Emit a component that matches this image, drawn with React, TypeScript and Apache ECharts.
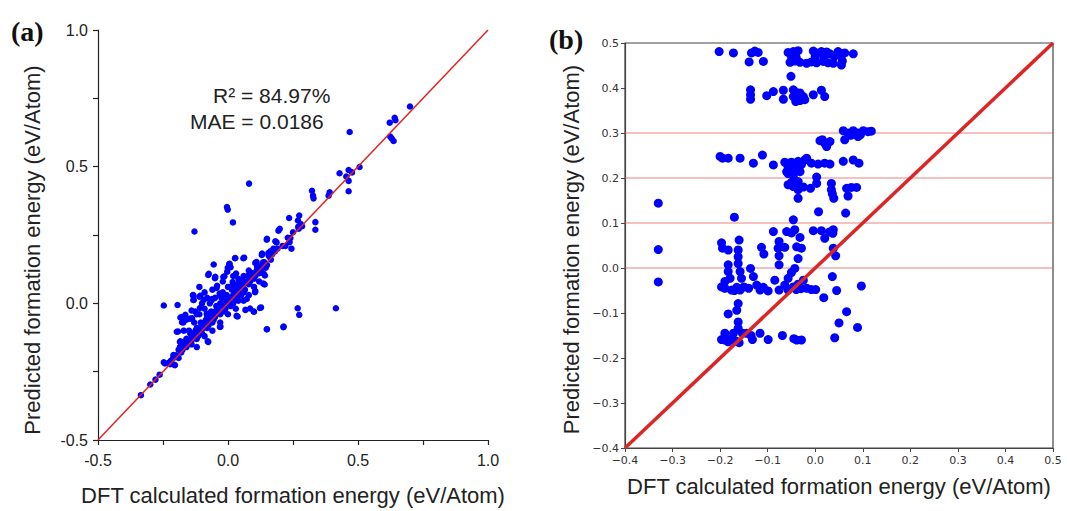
import React, { useEffect, useRef } from "react";
import * as echarts from "echarts";

// ---------- Panel (a) data: [DFT, predicted] ----------
const pointsA_spread: number[][] = [
  [0.70, 0.72], [0.641, 0.679], [0.644, 0.670], [0.622, 0.661], [0.468, 0.627], [0.624, 0.610], [0.637, 0.594], [0.630, 0.603],
  [0.506, 0.499], [0.464, 0.488], [0.477, 0.479], [0.429, 0.476], [0.455, 0.464], [0.464, 0.448], [0.464, 0.410], [0.391, 0.406],
  [0.387, 0.394], [0.323, 0.412], [0.327, 0.394], [0.329, 0.384], [0.081, 0.438], [-0.004, 0.352], [-0.001, 0.343], [0.019, 0.296],
  [-0.129, 0.263], [0.235, 0.312], [0.274, 0.321], [0.269, 0.303], [0.199, 0.273], [0.285, 0.282], [0.272, 0.273], [0.336, 0.297],
  [0.336, 0.269], [0.150, 0.236], [0.182, 0.227], [0.240, 0.239], [0.237, 0.224], [0.221, 0.210], [0.244, 0.200], [0.131, 0.182],
  [0.163, 0.190], [0.156, 0.176], [0.062, 0.167], [0.028, 0.166], [-0.055, 0.142], [0.006, 0.145], [-0.001, 0.130], [0.105, 0.148],
  [0.112, 0.133], [0.144, 0.133], [0.137, 0.109], [-0.074, 0.108], [0.031, 0.109], [-0.049, 0.097], [0.092, 0.091], [0.141, 0.069],
  [-0.014, 0.099], [-0.042, 0.064], [0.041, 0.073], [0.105, 0.045], [-0.135, 0.030], [-0.106, 0.028], [-0.132, 0.012], [-0.247, -0.008],
  [-0.194, -0.006], [-0.094, 0.012], [-0.062, 0.016], [-0.032, 0.036], [0.268, -0.018], [0.274, -0.042], [0.415, -0.018], [0.214, -0.085],
  [0.150, -0.095], [0.127, -0.015], [0.099, -0.030], [0.067, -0.024], [0.037, -0.048], [-0.029, -0.085], [-0.078, -0.139], [-0.183, -0.052],
  [-0.177, -0.069], [-0.164, -0.042], [-0.192, -0.103], [-0.126, -0.030], [-0.138, -0.055], [-0.183, -0.139], [-0.177, -0.158], [-0.209, -0.194],
  [-0.247, -0.216], [-0.228, -0.218], [-0.209, -0.224], [-0.263, -0.261], [-0.279, -0.279], [-0.299, -0.297], [-0.335, -0.336],
];

const pointsA_cluster: number[][] = [
  [0.005, 0.144], [0.010, 0.132], [0.059, 0.165], [0.027, 0.165], [-0.076, 0.104], [-0.050, 0.092], [-0.018, 0.096], [-0.003, 0.116],
  [0.018, 0.078], [0.053, 0.084], [-0.044, 0.056], [-0.031, 0.029], [-0.133, 0.029], [-0.110, 0.024], [-0.133, 0.012], [-0.063, 0.011],
  [-0.108, -0.017], [-0.140, -0.026], [-0.178, -0.050], [-0.172, -0.070], [-0.146, -0.056], [-0.082, -0.038], [-0.031, -0.086], [-0.197, -0.104],
  [-0.185, -0.141], [-0.172, -0.159], [-0.076, -0.141], [-0.242, -0.220], [-0.223, -0.223], [-0.204, -0.226], [-0.210, -0.189], [0.072, 0.016],
  [0.085, -0.019], [0.123, -0.017], [0.100, -0.031], [0.033, -0.046], [0.149, -0.095], [0.213, -0.087], [0.142, 0.102], [0.136, 0.072],
  [0.104, 0.041], [0.110, 0.151], [0.130, 0.177], [0.155, 0.184], [0.149, 0.233], [0.187, 0.223], [0.194, 0.266],
  [-0.16, -0.06], [-0.12, -0.04], [-0.10, 0.00], [-0.08, 0.02], [-0.06, 0.05], [-0.02, 0.08], [0.02, 0.10], [-0.11, 0.06],
  [-0.09, 0.04], [-0.17, -0.10],
];

const pointsA_diagonal: number[][] = [
  [-0.22, -0.21], [-0.20, -0.19], [-0.19, -0.17], [-0.18, -0.18], [-0.17, -0.15], [-0.16, -0.16], [-0.16, -0.13], [-0.15, -0.14],
  [-0.14, -0.12], [-0.14, -0.15], [-0.13, -0.11], [-0.12, -0.13], [-0.12, -0.09], [-0.11, -0.10], [-0.10, -0.08], [-0.10, -0.11],
  [-0.09, -0.07], [-0.08, -0.09], [-0.08, -0.05], [-0.07, -0.06], [-0.06, -0.04], [-0.06, -0.07], [-0.05, -0.03], [-0.05, -0.05],
  [-0.04, -0.02], [-0.03, -0.04], [-0.03, 0.00], [-0.02, -0.01], [-0.01, 0.01], [-0.01, -0.02], [0.00, 0.00], [0.01, 0.02],
  [0.01, -0.01], [0.02, 0.03], [0.02, 0.00], [0.03, 0.04], [0.03, 0.02], [0.04, 0.05], [0.04, 0.01], [0.05, 0.06],
  [0.05, 0.03], [0.06, 0.07], [0.06, 0.04], [0.07, 0.08], [0.08, 0.07], [0.09, 0.10], [0.10, 0.09], [0.11, 0.12],
  [0.12, 0.11], [0.13, 0.14], [0.14, 0.15], [0.15, 0.14], [0.16, 0.17], [0.17, 0.18], [0.18, 0.19], [0.19, 0.20],
  [0.21, 0.21], [0.23, 0.24], [0.25, 0.26], [0.27, 0.28], [0.28, 0.29],
  [-0.15, -0.10], [-0.13, -0.07], [-0.11, -0.04], [-0.09, -0.02], [-0.07, 0.00], [-0.05, 0.02], [-0.02, 0.04], [0.00, 0.06],
  [0.02, 0.07], [0.04, 0.09], [0.06, 0.10], [0.08, 0.12],
  [-0.12, -0.16], [-0.09, -0.12], [-0.06, -0.10], [-0.03, -0.07], [0.00, -0.04], [0.03, -0.02], [0.06, 0.01], [0.08, 0.03],
  [0.10, 0.06], [0.12, 0.08],
  [-0.21, -0.20], [-0.19, -0.20], [-0.185, -0.16], [-0.175, -0.17], [-0.165, -0.14], [-0.155, -0.15], [-0.145, -0.11], [-0.135, -0.13],
  [-0.125, -0.10], [-0.115, -0.12], [-0.105, -0.07], [-0.095, -0.09], [-0.085, -0.06], [-0.075, -0.08], [-0.065, -0.03], [-0.055, -0.06],
  [-0.045, -0.01], [-0.035, -0.03], [-0.025, 0.02], [-0.015, -0.03], [-0.005, 0.03], [0.005, 0.01], [0.015, 0.05], [0.025, 0.01],
  [0.035, 0.06], [0.045, 0.03], [0.055, 0.08], [0.065, 0.05], [0.075, 0.10], [0.085, 0.08], [0.095, 0.11], [0.105, 0.10],
  [0.115, 0.13], [0.125, 0.12], [0.135, 0.15], [0.145, 0.13], [0.165, 0.16], [0.175, 0.20],
];

const diagA: number[][] = [[-0.5, -0.5], [1.0, 1.0]];

// ---------- Panel (b) data: [DFT, predicted] ----------
const pointsB_high: number[][] = [
  [-0.202, 0.481], [-0.172, 0.478], [-0.134, 0.478], [-0.127, 0.482], [-0.120, 0.479], [-0.057, 0.479], [-0.046, 0.481], [-0.036, 0.483],
  [-0.004, 0.482], [0.003, 0.478], [0.013, 0.481], [0.024, 0.480], [0.031, 0.476], [0.048, 0.481], [0.062, 0.478], [0.080, 0.476],
  [-0.050, 0.470], [-0.040, 0.468], [0.000, 0.470], [0.018, 0.468], [0.040, 0.470], [0.055, 0.472],
  [-0.139, 0.458], [-0.109, 0.459], [-0.053, 0.457], [-0.043, 0.460], [-0.032, 0.457], [-0.018, 0.455], [-0.008, 0.458], [0.003, 0.456],
  [0.017, 0.459], [0.027, 0.456], [0.038, 0.455], [0.055, 0.451], [0.057, 0.460], [-0.051, 0.426],
  [-0.136, 0.396], [-0.136, 0.385], [-0.136, 0.375], [-0.102, 0.383], [-0.088, 0.392], [-0.067, 0.395], [-0.067, 0.375], [-0.046, 0.396],
  [-0.046, 0.381], [-0.041, 0.370], [-0.032, 0.389], [-0.025, 0.381], [-0.022, 0.374], [-0.032, 0.372], [-0.004, 0.385], [0.013, 0.395],
  [0.020, 0.381], [-0.040, 0.390],
  [0.059, 0.305], [0.069, 0.300], [0.080, 0.305], [0.090, 0.300], [0.101, 0.305], [0.111, 0.303], [0.118, 0.304], [0.075, 0.295],
  [0.090, 0.292], [0.062, 0.285], [0.095, 0.296], [0.010, 0.283], [0.020, 0.277], [0.031, 0.281], [0.024, 0.270], [0.015, 0.285],
];

const pointsB_mid: number[][] = [
  [-0.200, 0.248], [-0.195, 0.244], [-0.183, 0.244], [-0.158, 0.244], [-0.130, 0.233], [-0.111, 0.251], [-0.088, 0.229], [-0.064, 0.235],
  [-0.057, 0.225], [-0.050, 0.235], [-0.043, 0.222], [-0.036, 0.237], [-0.029, 0.230], [-0.018, 0.244], [-0.060, 0.214], [-0.046, 0.205],
  [-0.032, 0.214], [-0.022, 0.240], [-0.008, 0.233], [0.006, 0.231], [0.020, 0.233], [0.031, 0.231], [0.059, 0.237], [0.080, 0.240],
  [0.092, 0.233], [-0.050, 0.222], [-0.057, 0.210],
  [-0.057, 0.185], [-0.046, 0.181], [-0.036, 0.192], [-0.036, 0.174], [-0.050, 0.190], [-0.036, 0.155], [-0.010, 0.177], [0.003, 0.202],
  [0.003, 0.188], [0.034, 0.188], [0.034, 0.174], [0.039, 0.155], [0.066, 0.177], [0.069, 0.160], [0.076, 0.179], [0.087, 0.179],
  [-0.025, 0.180], [0.036, 0.165], [0.007, 0.125], [0.064, 0.122],
  [-0.330, 0.144], [-0.330, 0.041], [-0.330, -0.031], [-0.170, 0.113],
  [-0.046, 0.107], [-0.088, 0.081], [-0.060, 0.081], [-0.043, 0.085], [-0.032, 0.068], [-0.004, 0.083], [-0.050, 0.078], [0.013, 0.083],
  [0.020, 0.066], [0.038, 0.085], [0.037, 0.077], [0.030, 0.080],
  [-0.197, 0.056], [-0.195, 0.044], [-0.183, 0.040], [-0.160, 0.062], [-0.162, 0.040], [-0.162, 0.025], [-0.162, 0.010], [-0.113, 0.046],
  [-0.108, 0.031], [-0.076, 0.059], [-0.078, 0.044], [-0.064, 0.046], [-0.076, 0.027], [-0.076, 0.007], [-0.039, 0.047], [-0.029, 0.044],
  [-0.036, 0.021], [0.038, 0.044], [0.043, 0.027],
];

const pointsB_low: number[][] = [
  [-0.183, 0.007], [-0.183, -0.008], [-0.179, -0.023], [-0.197, -0.042], [-0.190, -0.045], [-0.176, -0.049], [-0.165, -0.043], [-0.158, -0.049],
  [-0.150, -0.042], [-0.158, -0.008], [-0.155, -0.023], [-0.136, -0.001], [-0.130, -0.019], [-0.123, -0.038], [-0.116, -0.049], [-0.109, -0.043],
  [-0.099, -0.051], [-0.085, -0.027], [-0.076, -0.049], [-0.057, -0.023], [-0.050, -0.010], [-0.043, -0.001], [-0.046, -0.042], [-0.036, -0.036],
  [-0.025, -0.027], [-0.018, -0.045], [-0.008, -0.048], [0.001, -0.048], [-0.057, -0.049], [-0.064, -0.038], [0.036, -0.019], [0.045, -0.050],
  [0.018, -0.066], [0.097, -0.040], [-0.140, -0.045], [-0.190, -0.030], [-0.170, -0.050], [-0.040, -0.048], [-0.030, -0.046],
  [-0.162, -0.079], [-0.165, -0.094], [-0.183, -0.102], [-0.162, -0.120], [-0.162, -0.134], [0.066, -0.097], [0.050, -0.122], [0.089, -0.132],
  [-0.197, -0.159], [-0.190, -0.160], [-0.183, -0.164], [-0.176, -0.157], [-0.167, -0.162], [-0.160, -0.166], [-0.153, -0.145], [-0.144, -0.145],
  [-0.132, -0.159], [-0.116, -0.145], [-0.099, -0.159], [-0.069, -0.150], [-0.045, -0.157], [-0.039, -0.160], [-0.029, -0.160], [-0.190, -0.145],
  [-0.172, -0.145], [0.041, -0.155], [-0.135, -0.150],
];

const diagB: number[][] = [[-0.4, -0.4], [0.5, 0.5]];
const hLinesB: number[] = [0.0, 0.1, 0.2, 0.3];
const rangeB: number[] = [-0.4, 0.5];

const annotationLines: string[] = ["R\u00B2 = 84.97%", "MAE = 0.0186"];
const axisTitleX = "DFT calculated formation energy (eV/Atom)";
const axisTitleY = "Predicted formation energy (eV/Atom)";

const fmtA = (v: number) => {
  const h = v * 2;
  if (Math.abs(h - Math.round(h)) > 1e-6) return "";
  if (Math.abs(v) < 1e-9) return "0.0";
  return v.toFixed(1);
};
const fmtB = (v: number) => {
  if (Math.abs(v) < 1e-9) return "0.0";
  return v.toFixed(1).replace("-", "\u2212");
};

const SANS = "Liberation Sans, Arial, sans-serif";
const DEJAVU = "DejaVu Sans, sans-serif";

export default function App() {
  const ref = useRef<HTMLDivElement>(null);
  useEffect(() => {
    if (!ref.current) return;
    const chart = echarts.init(ref.current, null, { renderer: "svg" });

    const axisA = (isX: boolean) => ({
      type: "value",
      gridIndex: 0,
      min: -0.5,
      max: 1.0,
      interval: 0.25,
      axisLine: { show: true, onZero: false, lineStyle: { color: "#222", width: 1.2 } },
      axisTick: { show: true, inside: false, length: 5, lineStyle: { color: "#222", width: 1.2 } },
      axisLabel: {
        formatter: fmtA,
        color: "#222",
        fontSize: 16,
        fontFamily: SANS,
        margin: isX ? 12 : 10,
        showMinLabel: true,
        showMaxLabel: true,
      },
      splitLine: { show: false },
      name: isX ? axisTitleX : axisTitleY,
      nameLocation: "middle",
      nameGap: isX ? 44 : 55,
      nameTextStyle: isX
        ? { fontSize: 22, fontFamily: SANS, color: "#222" }
        : { fontSize: 22, fontFamily: SANS, color: "#222", padding: [0, 30, 0, 0] },
    });

    const axisB = (isX: boolean) => ({
      type: "value",
      gridIndex: 1,
      min: rangeB[0],
      max: rangeB[1],
      interval: 0.1,
      axisLine: { show: true, onZero: false, lineStyle: { color: "#444", width: 1.2 } },
      axisTick: { show: true, inside: false, length: 4, lineStyle: { color: "#444", width: 1 } },
      axisLabel: {
        formatter: fmtB,
        color: "#333",
        fontSize: 11,
        fontFamily: DEJAVU,
        margin: isX ? 7 : 6,
        showMinLabel: true,
        showMaxLabel: true,
      },
      splitLine: { show: false },
      name: isX ? axisTitleX : axisTitleY,
      nameLocation: "middle",
      nameGap: isX ? 27 : 43,
      nameTextStyle: isX
        ? { fontSize: 22, fontFamily: SANS, color: "#222" }
        : { fontSize: 22, fontFamily: SANS, color: "#222", padding: [0, 8, 0, 0] },
    });

    const dot = "#0000ff";
    const option: any = {
      animation: false,
      backgroundColor: "#ffffff",
      grid: [
        { left: 98, top: 30, width: 390, height: 412 },
        { left: 625, top: 43, width: 428, height: 405, show: true, borderColor: "#444", borderWidth: 1.2 },
      ],
      xAxis: [axisA(true), axisB(true)],
      yAxis: [axisA(false), axisB(false)],
      series: [
        {
          type: "scatter", xAxisIndex: 0, yAxisIndex: 0, z: 2,
          data: [...pointsA_spread, ...pointsA_cluster, ...pointsA_diagonal],
          symbolSize: 6.5, itemStyle: { color: dot, opacity: 1 },
        },
        {
          type: "line", xAxisIndex: 0, yAxisIndex: 0, z: 3, data: diagA, symbol: "none",
          lineStyle: { color: "#e02424", width: 1.5 },
        },
        ...hLinesB.map((v) => ({
          type: "line", xAxisIndex: 1, yAxisIndex: 1, z: 1, symbol: "none",
          data: [[rangeB[0], v], [rangeB[1], v]],
          lineStyle: { color: "rgba(228,90,90,0.75)", width: 1.2 },
        })),
        {
          type: "scatter", xAxisIndex: 1, yAxisIndex: 1, z: 2,
          data: [...pointsB_high, ...pointsB_mid, ...pointsB_low],
          symbolSize: 9, itemStyle: { color: dot, opacity: 1 },
        },
        {
          type: "line", xAxisIndex: 1, yAxisIndex: 1, z: 3, data: diagB, symbol: "none",
          lineStyle: { color: "#dc2626", width: 3.5 },
        },
      ],
      graphic: [
        {
          type: "text", left: 11, top: 17,
          style: { text: "(a)", font: "bold 28px 'Liberation Serif', 'Times New Roman', serif", fill: "#111" },
        },
        {
          type: "text", left: 549, top: 25,
          style: { text: "(b)", font: "bold 28px 'Liberation Serif', 'Times New Roman', serif", fill: "#111" },
        },
        {
          type: "text", left: 213, top: 85,
          style: { text: annotationLines[0], font: "21px 'Liberation Sans', Arial, sans-serif", fill: "#222" },
        },
        {
          type: "text", left: 190, top: 111,
          style: { text: annotationLines[1], font: "21px 'Liberation Sans', Arial, sans-serif", fill: "#222" },
        },
      ],
    };
    chart.setOption(option);
    return () => chart.dispose();
  }, []);
  return (
    <div
      ref={ref}
      style={{ position: "absolute", left: 0, top: 0, width: 1067, height: 511 }}
    />
  );
}
